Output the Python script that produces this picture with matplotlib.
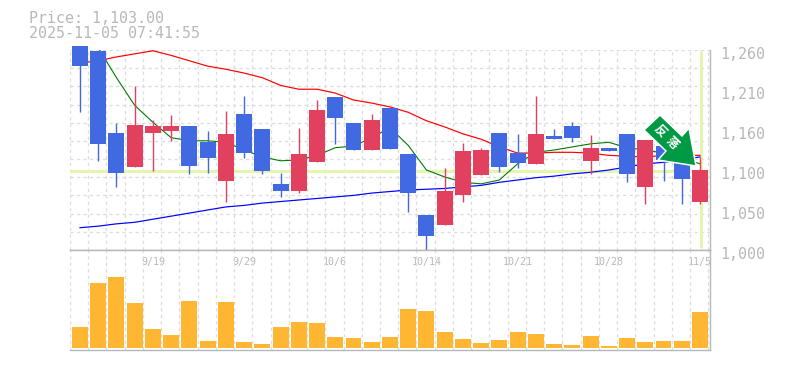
import matplotlib
matplotlib.use("Agg")
import matplotlib.pyplot as plt
from matplotlib.patches import Polygon
import numpy as np

labels = {4: '9/19', 9: '9/29', 14: '10/6', 19: '10/14', 24: '10/21', 29: '10/28', 34: '11/5'}
yticks = [1000, 1052, 1104, 1156, 1208, 1260]
yticklabels = ['1,000', '1,050', '1,100', '1,160', '1,210', '1,260']

price_now = 1103
# top of body, bottom of body, high, low  (prices)
body_top = [1265, 1259, 1152, 1162, 1161, 1161, 1161, 1140, 1151, 1177, 1157, 1086, 1125, 1182, 1199, 1165, 1169, 1185,
            1125, 1045, 1077, 1129, 1130, 1152, 1126, 1151, 1148, 1161, 1133, 1133, 1151, 1143, 1135, 1130, 1104]
body_bot = [1239, 1138, 1100, 1108, 1152, 1155, 1109, 1120, 1090, 1126, 1103, 1077, 1077, 1114, 1172, 1130, 1130, 1131,
            1074, 1018, 1032, 1072, 1098, 1108, 1113, 1112, 1144, 1146, 1116, 1129, 1099, 1082, 1117, 1092, 1062]
high = [1265, 1259, 1165, 1213, 1169, 1175, 1161, 1155, 1181, 1200, 1157, 1100, 1159, 1195, 1199, 1165, 1177, 1185,
        1125, 1045, 1107, 1139, 1133, 1152, 1151, 1200, 1157, 1166, 1150, 1133, 1151, 1143, 1135, 1130, 1121]
low = [1179, 1116, 1082, 1108, 1103, 1142, 1099, 1100, 1062, 1120, 1099, 1069, 1074, 1114, 1138, 1130, 1130, 1131,
       1049, 1000, 1032, 1062, 1098, 1101, 1107, 1112, 1144, 1140, 1099, 1129, 1088, 1060, 1090, 1060, 1060]
is_up = [0, 0, 0, 1, 1, 1, 0, 0, 1, 0, 0, 0, 1, 1, 0, 0, 1, 0,
         0, 0, 1, 1, 1, 0, 0, 1, 0, 0, 1, 0, 0, 1, 0, 0, 1]

ma_red = [1243, 1246, 1251, 1255, 1259, 1253, 1246, 1239, 1235, 1230, 1224, 1214, 1209, 1209, 1204, 1195, 1191, 1186,
          1179, 1168, 1160, 1151, 1144, 1134, 1126, 1126, 1127, 1127, 1126, 1123, 1122, 1121, 1123, 1123, 1123]
ma_green = [np.nan, 1263, 1224, 1188, 1166, 1146, 1142, 1142, 1140, 1130, 1121, 1116, 1117, 1123, 1133, 1135, 1146, 1159,
            1136, 1104, 1095, 1088, 1086, 1091, 1112, 1127, 1130, 1134, 1138, 1140, 1133, 1130, 1126, 1120, 1112]
ma_blue = [1029, 1031, 1034, 1036, 1040, 1044, 1048, 1052, 1056, 1058, 1061, 1063, 1065, 1067, 1069, 1071, 1074, 1076,
           1078, 1079, 1080, 1082, 1084, 1088, 1091, 1094, 1096, 1099, 1101, 1104, 1108, 1112, 1114, 1117, 1121]

volume = [21, 65, 71, 45, 19, 13, 47, 7, 46, 6, 4, 21, 26, 25, 11, 10, 6, 11,
          39, 37, 16, 9, 5, 8, 16, 14, 4, 3, 12, 2, 10, 6, 7, 7, 36]

GREY = '#b8b8b8'
GRID = '#dddddd'
UP = '#e2405f'
DOWN = '#4169e1'
LIME = '#e4f5b0'
px = 0.72  # one pixel at dpi 100, in points

plt.rcParams['font.family'] = 'DejaVu Sans Mono'

fig = plt.figure(figsize=(7.85, 3.7), dpi=100)
ax = fig.add_axes([70/785, 120/370, 640/785, 200/370])
ax2 = fig.add_axes([70/785, 20/370, 640/785, 100/370])

x = np.arange(len(volume))
x0, x1 = -0.548, 34.55
edges = x0 + np.arange(len(volume) + 1)

for a in (ax, ax2):
    a.set_xlim(x0, x1)
    a.set_xticks(edges, minor=True)
    a.grid(True, which='minor', axis='x', color=GRID, ls=(0, (2.5, 2.5)), lw=1.3*px)
    a.set_axisbelow(True)
    a.tick_params(which='both', length=0)
    a.spines['top'].set_visible(False)
    a.spines['left'].set_visible(False)
    a.spines['right'].set_color(GREY)
    a.spines['bottom'].set_color(GREY)
    a.spines['right'].set_linewidth(1.4*px)
    a.spines['bottom'].set_linewidth(1.4*px)

# price pane
ax.set_ylim(1000, 1260)
ax.set_yticks(np.linspace(1000, 1260, 12), minor=True)
ax.grid(True, which='minor', axis='y', color=GRID, ls=(0, (2.5, 2.5)), lw=1.3*px)
ax.set_xticks([])
ax.set_yticks([])

ax.axhline(price_now, color=LIME, lw=3*px, zorder=1)
ax.vlines(34.03, 1002, 1259, color=LIME, lw=3*px, zorder=1)

ax.plot(x, ma_red, color='#ff0000', lw=1.2*px, zorder=2)
ax.plot(x, ma_green, color='#007a00', lw=1.1*px, zorder=2)
ax.plot(x, ma_blue, color='#0000ff', lw=1.2*px, zorder=2)

for i in range(len(x)):
    c = UP if is_up[i] else DOWN
    ax.vlines(x[i], low[i], high[i], color=c, lw=1.4*px, zorder=3, clip_on=False)
    ax.bar(x[i], body_top[i] - body_bot[i], bottom=body_bot[i], width=0.875, color=c, zorder=4, clip_on=False)

# arrow badge drawn in pixels of the figure
arrow_px = [(660, 115), (644, 130), (666, 151), (658, 160), (696, 166), (689, 128), (682, 136)]
arrow = Polygon([(a / 785, 1 - b / 370) for a, b in arrow_px], closed=True, transform=fig.transFigure,
                facecolor='#009944', edgecolor='white', lw=1.5*px, zorder=6)
ax.add_patch(arrow)
arrow.set_clip_on(False)
fig.text(660/785, 1 - 131/370, '反', color='white', fontsize=8.5, rotation=-45, ha='center', va='center',
         family=['Noto Sans CJK JP', 'DejaVu Sans'], weight='bold', zorder=7)
fig.text(672/785, 1 - 143/370, '落', color='white', fontsize=8.5, rotation=-45, ha='center', va='center',
         family=['Noto Sans CJK JP', 'DejaVu Sans'], weight='bold', zorder=7)

for v, s in zip(yticks, yticklabels):
    ax.annotate(s, (1, v), xycoords=('axes fraction', 'data'), xytext=(7.5, -3.4), textcoords='offset points',
                color=GREY, fontsize=10.8, ha='left', va='center', annotation_clip=False)

# volume pane
ax2.set_ylim(-2, 98)
ax2.bar(x, volume, width=0.875, color='#ffb733', zorder=3)
ax2.set_yticks([])
ax2.spines['top'].set_visible(True)
ax2.spines['top'].set_color(GREY)
ax2.spines['top'].set_linewidth(1.4*px)
ax2.set_xticks(list(labels.keys()))
ax2.set_xticklabels(list(labels.values()))
ax2.xaxis.tick_top()
ax2.tick_params(axis='x', which='major', pad=-12, colors=GREY, labelsize=7.2)

fig.text(29/785, 1 - 18.5/370, 'Price: 1,103.00', color=GREY, fontsize=10.8, ha='left', va='center')
fig.text(29/785, 1 - 33/370, '2025-11-05 07:41:55', color=GREY, fontsize=10.8, ha='left', va='center')

fig.savefig('out.png', dpi=100)
